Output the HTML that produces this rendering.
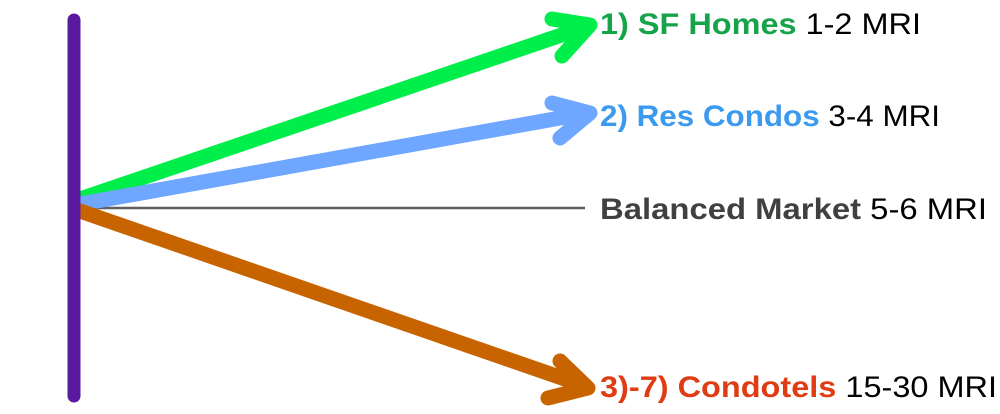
<!DOCTYPE html>
<html><head><style>html,body{margin:0;padding:0;background:#fff;width:1000px;height:414px;overflow:hidden}</style></head>
<body>
<svg width="1000" height="414" viewBox="0 0 1000 414" xmlns="http://www.w3.org/2000/svg">
<line x1="80" y1="208" x2="585" y2="208" stroke="#606060" stroke-width="2.5"/>
<g fill="none" stroke-linecap="round" stroke-linejoin="round" stroke-width="15">
<g stroke="#00ee4a">
<line x1="80" y1="199" x2="588" y2="26"/>
<polyline points="552,19 590,25 562,56"/>
</g>
<g stroke="#6fa6ff">
<line x1="80" y1="204" x2="588" y2="113"/>
<polyline points="552,103 590,113 560,138"/>
</g>
<g stroke="#c86400">
<line x1="80" y1="211" x2="585" y2="386"/>
<polyline points="560,361 588,388 548,398"/>
</g>
</g>
<line x1="74" y1="20" x2="74" y2="396" stroke="#5a1aa0" stroke-width="13" stroke-linecap="round"/>
<g font-family="Liberation Sans, sans-serif" font-size="30">
<text x="600" y="34" textLength="321" lengthAdjust="spacingAndGlyphs"><tspan fill="#16a34a" font-weight="bold">1) SF Homes</tspan><tspan fill="#000">  1-2 MRI</tspan></text>
<text x="600" y="126" textLength="340" lengthAdjust="spacingAndGlyphs"><tspan fill="#3b9af0" font-weight="bold">2) Res Condos</tspan><tspan fill="#000"> 3-4 MRI</tspan></text>
<text x="600" y="219" textLength="387" lengthAdjust="spacingAndGlyphs"><tspan fill="#404040" font-weight="bold">Balanced Market</tspan><tspan fill="#000"> 5-6 MRI</tspan></text>
<text x="600" y="397" textLength="397" lengthAdjust="spacingAndGlyphs"><tspan fill="#e03c14" font-weight="bold">3)-7) Condotels</tspan><tspan fill="#000"> 15-30 MRI</tspan></text>
</g>
</svg>
</body></html>
